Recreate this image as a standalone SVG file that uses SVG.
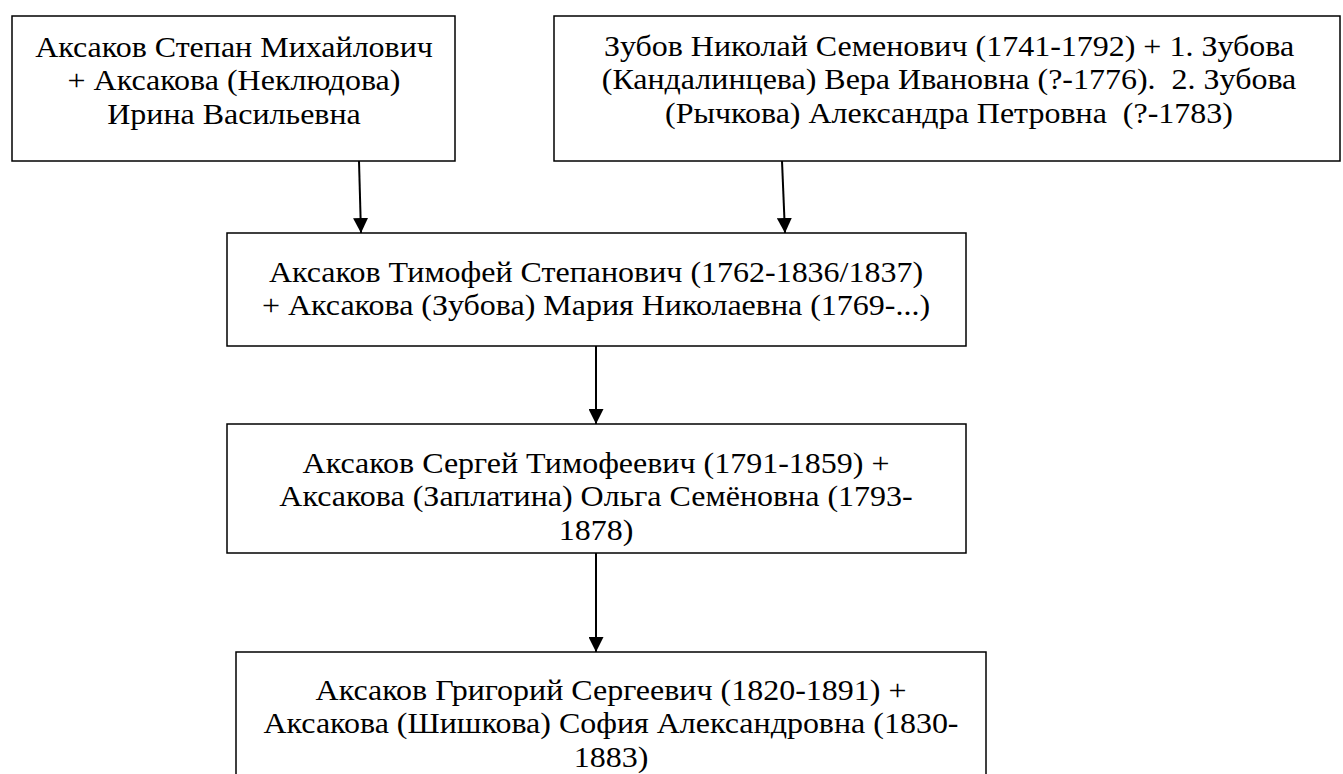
<svg xmlns="http://www.w3.org/2000/svg" width="1343" height="774" viewBox="0 0 1343 774">
<style>
.box{fill:#fff;stroke:#000;stroke-width:1.5}
.n{font-family:'Liberation Serif','Times New Roman',serif;font-size:29px;fill:#000;text-anchor:middle}
.c{stroke:#000;stroke-width:2;fill:none;marker-end:url(#ah)}
</style>
<defs>
<marker id="ah" markerWidth="15" markerHeight="15" refX="15" refY="7.5" orient="auto" markerUnits="userSpaceOnUse" viewBox="0 0 15 15">
<path d="M0,0 L15,7.5 L0,15 Z" fill="#000"/>
</marker>
</defs>
<rect width="1343" height="774" fill="#fff"/>
<g id="n1" class="n">
<rect class="box" x="12" y="16" width="443" height="145"/>
<text transform="translate(234,0) scale(1.1034,1)"><tspan x="0" y="57">Аксаков Степан Михайлович</tspan><tspan x="0" y="90.5">+ Аксакова (Неклюдова)</tspan><tspan x="0" y="124">Ирина Васильевна</tspan></text>
</g>
<g id="n2" class="n">
<rect class="box" x="554" y="16" width="786" height="145"/>
<text transform="translate(949,0) scale(1.1034,1)" xml:space="preserve"><tspan x="0" y="56">Зубов Николай Семенович (1741-1792) + 1. Зубова</tspan><tspan x="0" y="89.5">(Кандалинцева) Вера Ивановна (?-1776).  2. Зубова</tspan><tspan x="0" y="123">(Рычкова) Александра Петровна  (?-1783)</tspan></text>
</g>
<g id="n3" class="n">
<rect class="box" x="227" y="233" width="739" height="113"/>
<text transform="translate(596,0) scale(1.1034,1)"><tspan x="0" y="282">Аксаков Тимофей Степанович (1762-1836/1837)</tspan><tspan x="0" y="315.5">+ Аксакова (Зубова) Мария Николаевна (1769-...)</tspan></text>
</g>
<g id="n4" class="n">
<rect class="box" x="227" y="424" width="739" height="129"/>
<text transform="translate(596,0) scale(1.1034,1)"><tspan x="0" y="473">Аксаков Сергей Тимофеевич (1791-1859) +</tspan><tspan x="0" y="506.5">Аксакова (Заплатина) Ольга Семёновна (1793-</tspan><tspan x="0" y="540">1878)</tspan></text>
</g>
<g id="n5" class="n">
<rect class="box" x="236" y="652" width="750" height="140"/>
<text transform="translate(611,0) scale(1.1034,1)"><tspan x="0" y="700">Аксаков Григорий Сергеевич (1820-1891) +</tspan><tspan x="0" y="733.5">Аксакова (Шишкова) София Александровна (1830-</tspan><tspan x="0" y="767">1883)</tspan></text>
</g>
<g id="connectors">
<line class="c" x1="359" y1="161" x2="361" y2="233"/>
<line class="c" x1="782" y1="161" x2="785" y2="233"/>
<line class="c" x1="596" y1="346" x2="596" y2="424"/>
<line class="c" x1="596" y1="553" x2="596" y2="652"/>
</g>
</svg>
